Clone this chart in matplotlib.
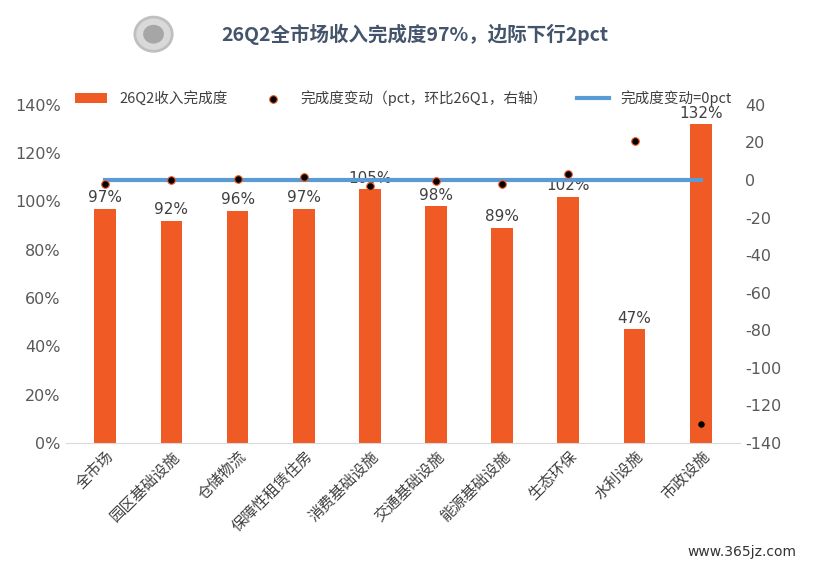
import matplotlib
matplotlib.use("Agg")
import matplotlib.pyplot as plt
from matplotlib.patches import Ellipse

plt.rcParams['font.family'] = ['Noto Sans CJK SC', 'DejaVu Sans']

categories = ["全市场", "园区基础设施", "仓储物流", "保障性租赁住房", "消费基础设施",
              "交通基础设施", "能源基础设施", "生态环保", "水利设施", "市政设施"]
completion = [97, 92, 96, 97, 105, 98, 89, 102, 47, 132]
change = [-2, 0, 0.5, 1.5, -3, -0.5, -2, 3, 21, -130]
zero_line = [0] * len(categories)

fig = plt.figure(figsize=(8.3, 5.7), dpi=100)
ax = fig.add_axes([0.079, 0.223, 0.813, 0.593])
x = range(len(categories))
bars = ax.bar(x, completion, width=0.33, color='#F05A24', label='26Q2收入完成度', zorder=2)
for i, v in enumerate(completion):
    ax.text(i, v + 1.5, f"{v}%", ha='center', va='bottom', fontsize=11, color='#404040',
            family='DejaVu Sans', zorder=5)
ax.set_ylim(0, 140)
ax.set_yticks(range(0, 141, 20))
ax.set_yticklabels([f"{t}%" for t in range(0, 141, 20)], family='DejaVu Sans')
ax.set_xlim(-0.6, len(categories) - 0.4)
ax.set_xticks(list(x))
ax.set_xticklabels(categories, rotation=45, ha='right', rotation_mode='anchor', fontsize=11,
                   color='#404040')
for s in ['top', 'right', 'left']:
    ax.spines[s].set_visible(False)
ax.spines['bottom'].set_color('#d9d9d9')
ax.tick_params(length=0, labelsize=11.5, colors='#595959')
ax.tick_params(axis='x', colors='#404040', labelsize=11)

ax2 = ax.twinx()
ax2.set_ylim(-140, 40)
ax2.set_yticks(range(-140, 41, 20))
ax2.set_yticklabels([str(t) for t in range(-140, 41, 20)], family='DejaVu Sans')
ln, = ax2.plot(x, zero_line, color='#5B9BD5', lw=3, label='完成度变动=0pct', zorder=3)
sc = ax2.scatter(x, change, s=30, color='black', edgecolors='#F05A24', linewidths=0.8,
                 label='完成度变动（pct，环比26Q1，右轴）', zorder=4)
for s in ['top', 'right', 'left', 'bottom']:
    ax2.spines[s].set_visible(False)
ax2.tick_params(length=0, labelsize=11.5, colors='#595959')

fig.legend(handles=[bars, sc, ln], loc='upper left', bbox_to_anchor=(0.075, 0.865), ncol=3,
           frameon=False, fontsize=10.5, handlelength=2.2, columnspacing=2.0,
           labelcolor='#404040')

fig.text(0.50, 0.94, "26Q2全市场收入完成度97%，边际下行2pct", ha='center', va='center',
         fontsize=14, fontweight='bold', color='#44546A')
fig.patches.append(Ellipse((0.185, 0.94), 0.045, 0.06, transform=fig.transFigure,
                           facecolor='#d9d9d9', edgecolor='#bfbfbf', lw=2))
fig.patches.append(Ellipse((0.185, 0.94), 0.025, 0.033, transform=fig.transFigure,
                           facecolor='#a6a6a6', edgecolor='none'))
fig.text(0.96, 0.025, "www.365jz.com", ha='right', fontsize=10, color='#333333', family='DejaVu Sans')
fig.savefig("out.png", dpi=100)
